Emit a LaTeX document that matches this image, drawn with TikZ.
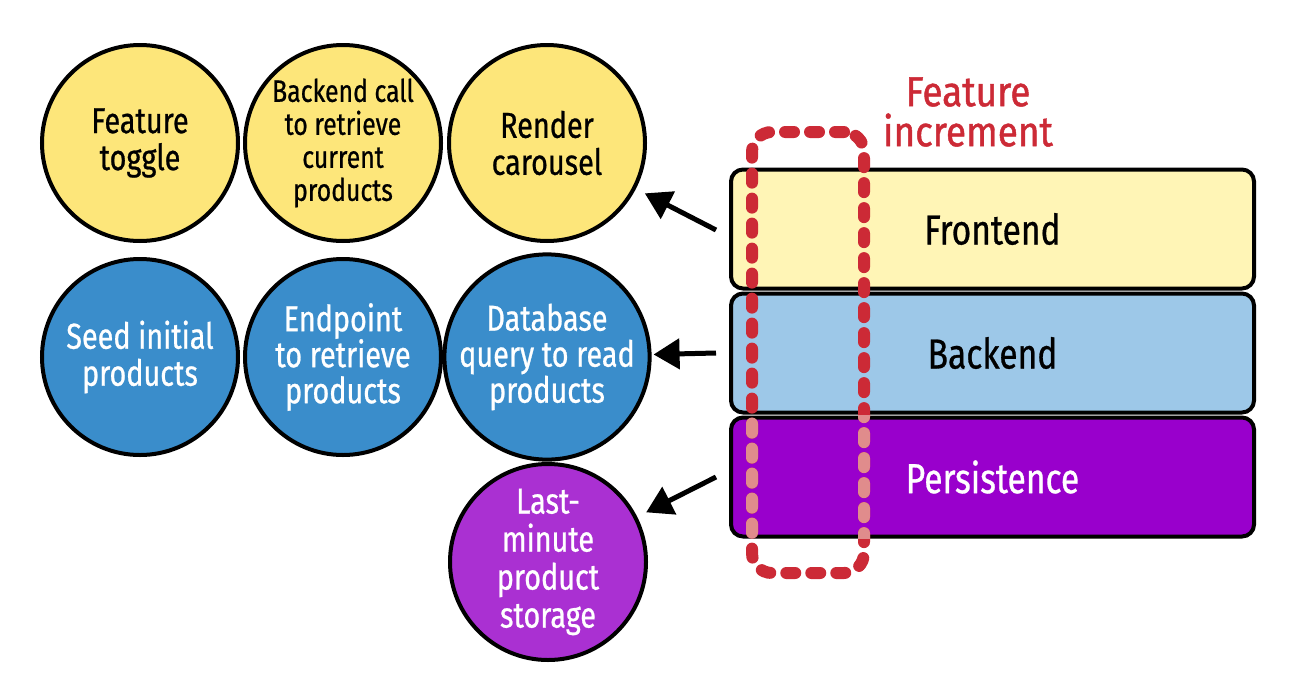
\documentclass[tikz,border=0pt]{standalone}
\usepackage{fontspec}
\setmainfont[FakeStretch=0.8,FakeBold=0.7]{Fira Sans}
\newfontfamily\lblfont[FakeStretch=0.88,FakeBold=1.1]{Fira Sans}
\usetikzlibrary{arrows.meta,calc}
\definecolor{cyel}{RGB}{253,230,122}
\definecolor{cblue}{RGB}{58,141,203}
\definecolor{cpurp}{RGB}{170,48,210}
\definecolor{fyel}{RGB}{255,245,182}
\definecolor{fblue}{RGB}{157,200,232}
\definecolor{fpurp}{RGB}{153,0,204}
\definecolor{cred}{RGB}{204,42,54}
\definecolor{cpink}{RGB}{224,140,140}
\begin{document}
\begin{tikzpicture}[x=1pt,y=-1pt,
  circ/.style={circle,draw=black,line width=4pt,minimum size=196pt,inner sep=0pt,align=center},
  layer/.style={rectangle,draw=black,line width=4pt,rounded corners=12pt,minimum width=523pt,minimum height=119pt,inner sep=0pt,font=\fontsize{42}{44}\selectfont},
  dashbox/.style={rectangle,draw=cred,line width=12pt,rounded corners=20pt,dash pattern=on 9pt off 16pt,line cap=round,minimum width=112pt,minimum height=441pt,inner sep=0pt},
  arr/.style={line width=5pt,-{Triangle[length=26pt,width=30pt]}}
]
\useasboundingbox (0,0) rectangle (1290,699);
% top row
\node[circ,fill=cyel,font=\fontsize{36}{37}\selectfont] (toggle) at (140,143) {Feature\\toggle};
\node[circ,fill=cyel,font=\fontsize{31}{33}\selectfont] (call) at (343,143) {Backend call\\to retrieve\\current\\products};
\node[circ,fill=cyel,font=\fontsize{36}{37}\selectfont] (render) at (547,143) {Render\\carousel};
% middle row
\node[circ,fill=cblue,text=white,font=\fontsize{36}{37}\selectfont] (seed) at (140,357) {Seed initial\\products};
\node[circ,fill=cblue,text=white,font=\fontsize{36}{36}\selectfont] (endpoint) at (343,357) {Endpoint\\to retrieve\\products};
\node[circ,fill=cblue,text=white,font=\fontsize{36}{36}\selectfont] (query) at (547,357) {Database\\query to read\\products};
% bottom
\node[circ,fill=cpurp,text=white,font=\fontsize{36}{38}\selectfont] (storage) at (548,562) {Last-\\minute\\product\\storage};
% layers
\node[layer,fill=fyel] (front) at (992.5,229) {Frontend};
\node[layer,fill=fblue] (back) at (992.5,353) {Backend};
\node[layer,fill=fpurp,text=white] (persist) at (992.5,477) {Persistence};
% feature increment
\node[dashbox] (incr) at (808,352.5) {};
\begin{scope}
  \clip (persist.south west) rectangle (persist.north east);
  \node[dashbox,draw=cpink] at (808,352.5) {};
\end{scope}
\node[text=cred,align=center,font=\lblfont\fontsize{42}{40}\selectfont] (lbl) at (968,112) {Feature\\increment};
% arrows
\coordinate (tf) at ($(front.west)+(-13,1)$);
\coordinate (tb) at ($(back.west)+(-13,0)$);
\coordinate (tp) at ($(persist.west)+(-13,0)$);
\draw[arr,shorten >=10pt] (tf) -- (render);
\draw[arr,shorten >=2pt] (tb) -- (query);
\draw[arr,shorten >=10pt] (tp) -- (storage);
\end{tikzpicture}
\end{document}
